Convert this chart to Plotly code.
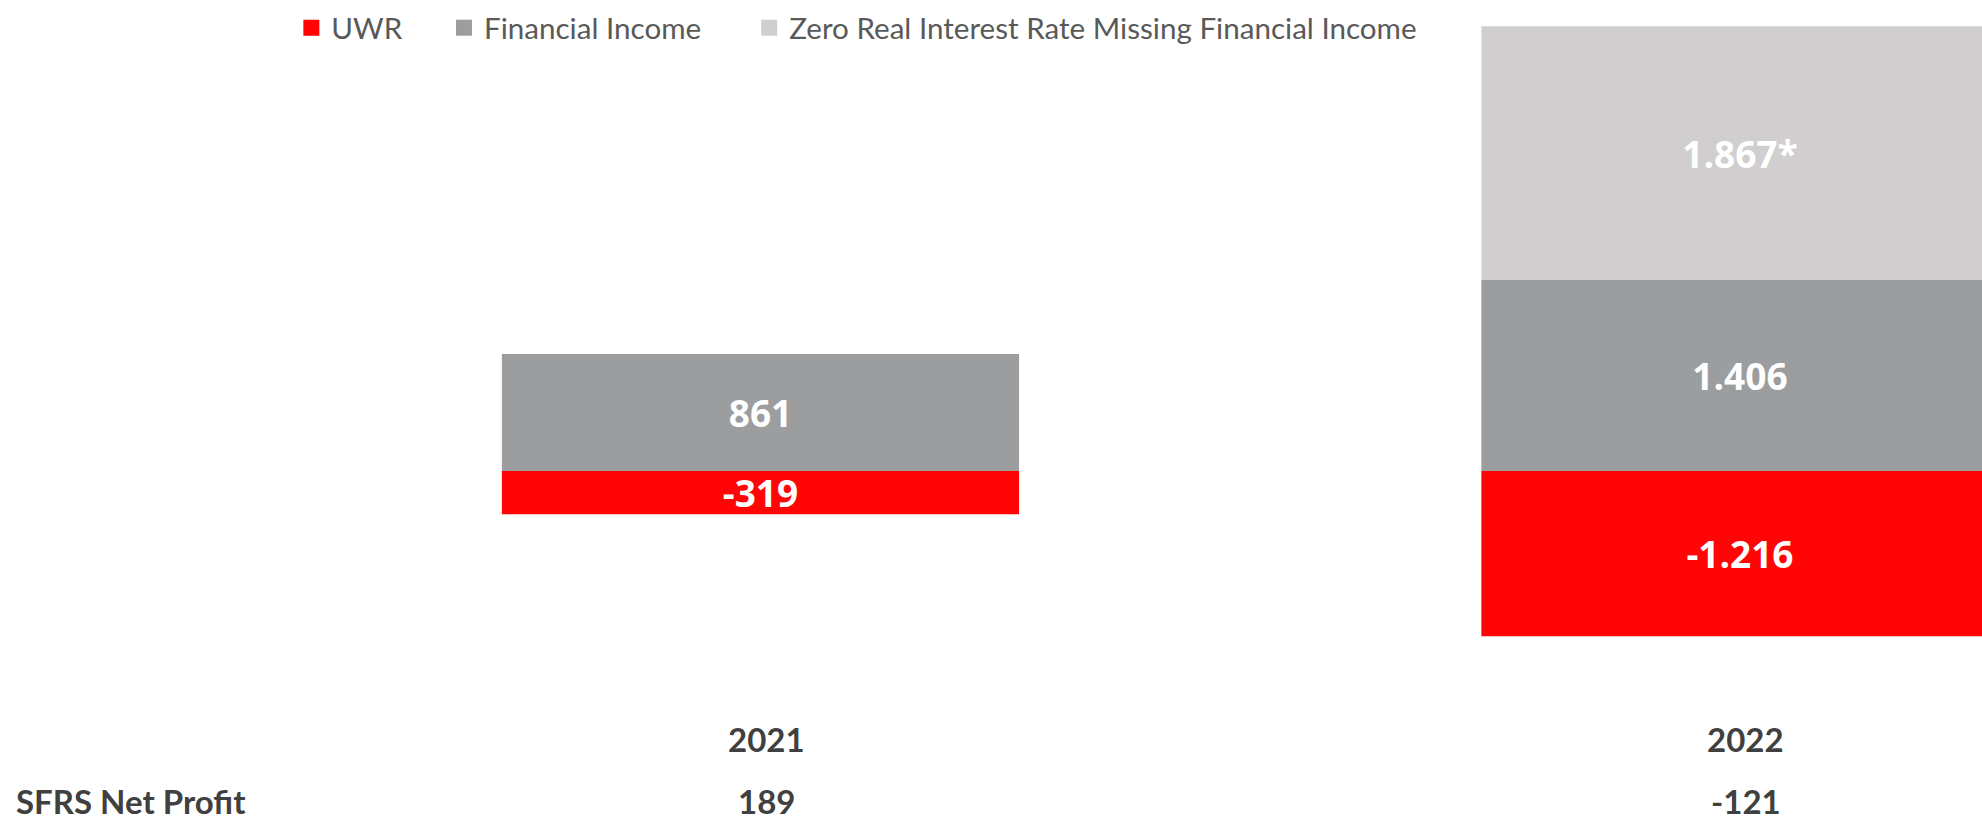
import plotly.graph_objects as go

years = ["2021", "2022"]
uwr = [-319, -1216]
financial_income = [861, 1406]
zero_rate_missing = [None, 1867]
net_profit = [189, -121]

series_names = ["UWR", "Financial Income", "Zero Real Interest Rate Missing Financial Income"]
colors = ["#FF0505", "#9C9D9F", "#D0CECF"]

FONT = "Lato"
dark = "#404040"

fig = go.Figure()
series = [uwr, financial_income, zero_rate_missing]
templates = ["%{y:,.0f}", "%{y:,.0f}", "%{y:,.0f}*"]
legends = ["legend", "legend2", "legend3"]
for name, vals, col, tpl, lg in zip(series_names, series, colors, templates, legends):
    fig.add_trace(go.Bar(
        x=years, y=vals, name=name,
        marker=dict(color=col, line=dict(width=0)),
        width=0.528,
        texttemplate=tpl,
        textposition="inside",
        insidetextanchor="middle",
        constraintext="none",
        textfont=dict(family="Open Sans", size=37, color="white", weight="bold"),
        showlegend=False,
        hoverinfo="skip",
    ))
    # legend entry with a larger square swatch
    fig.add_trace(go.Scatter(
        x=[None], y=[None], mode="markers", name=name,
        marker=dict(symbol="square", size=16, color=col),
        legend=lg, hoverinfo="skip",
    ))

# category labels and net profit row
for i, (yr, npf) in enumerate(zip(years, net_profit)):
    fig.add_annotation(x=i, y=0.1, xref="x", yref="paper", text=f"<b>{yr}</b>",
                       showarrow=False, xshift=6, yanchor="middle",
                       font=dict(family=FONT, size=33, color=dark))
    fig.add_annotation(x=i, y=0.024, xref="paper" if False else "x", yref="paper", text=f"<b>{npf}</b>",
                       showarrow=False, xshift=6, yanchor="middle",
                       font=dict(family=FONT, size=33, color=dark))
fig.add_annotation(x=0.007, y=0.024, xref="paper", yref="paper", text="<b>SFRS Net Profit</b>",
                   showarrow=False, xanchor="left", yanchor="middle",
                   font=dict(family=FONT, size=33, color=dark))

leg_common = dict(orientation="h", yanchor="top", y=1.0099, xanchor="left",
                  font=dict(family=FONT, size=29.6, color="#595959"),
                  bgcolor="rgba(0,0,0,0)", borderwidth=0, itemclick=False,
                  itemsizing="trace", tracegroupgap=0)

fig.update_layout(
    width=1982, height=820,
    margin=dict(l=0, r=0, t=10, b=0),
    paper_bgcolor="white", plot_bgcolor="white",
    barmode="relative",
    separators=",.",
    showlegend=True,
    legend=dict(x=0.147, **leg_common),
    legend2=dict(x=0.224, **leg_common),
    legend3=dict(x=0.378, **leg_common),
    xaxis=dict(type="category", range=[-0.7764, 1.2471], visible=False, fixedrange=True),
    yaxis=dict(range=[-2569, 3393], visible=False, zeroline=False, showgrid=False, fixedrange=True),
)

fig.write_html("out.html", config={"displayModeBar": False},
               post_script="document.body.style.margin='0';document.body.style.padding='0';")
